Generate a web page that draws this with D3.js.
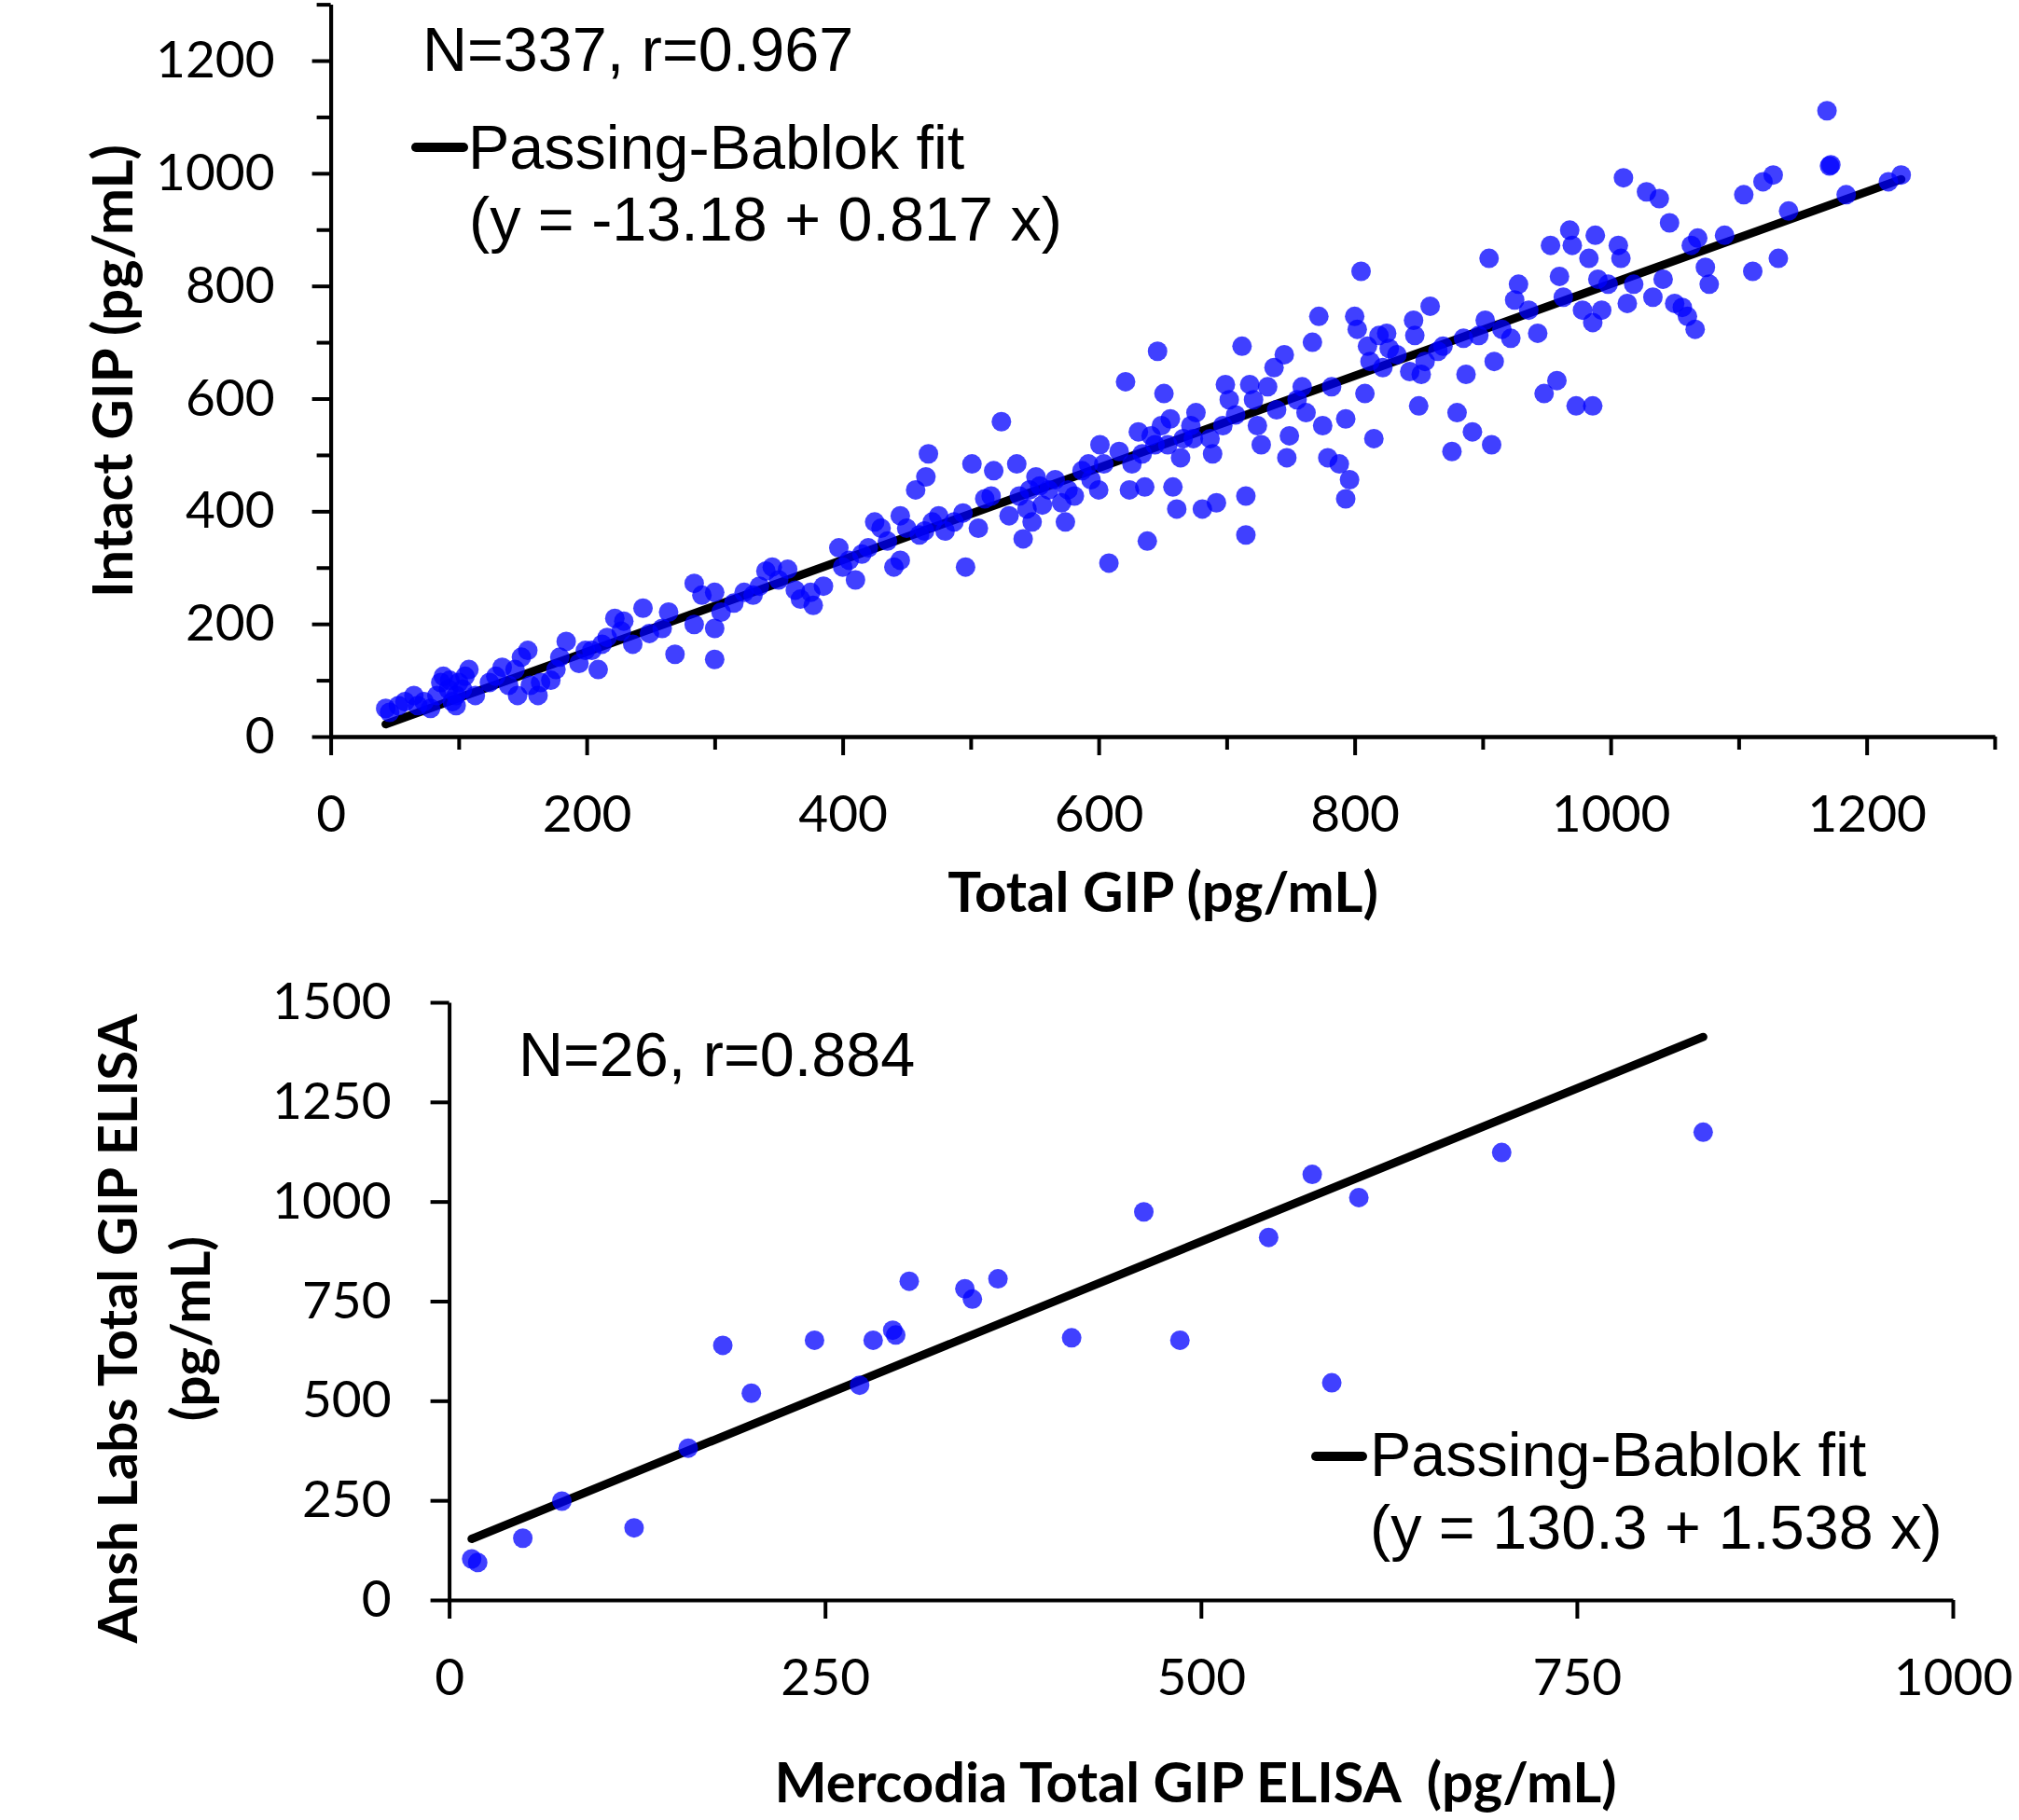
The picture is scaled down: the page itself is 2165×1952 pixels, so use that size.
<!DOCTYPE html>
<html>
<head>
<meta charset="utf-8">
<script src="https://cdn.jsdelivr.net/npm/d3@7"></script>
<style>
  body { margin: 0; background: #fff; }
</style>
</head>
<body>
<div id="chart"></div>
<script>
// ---- top panel: intact GIP vs total GIP ----
var totalGip = [43,46,53,58,65,68,73,78,83,86,88,92,93,95,98,100,103,105,108,98,113,124,129,134,139,144,146,149,154,156,
  162,164,172,176,179,184,194,199,204,209,212,216,222,227,229,236,244,249,259,264,269,284,284,290,300,300,300,305,315,323,
  330,335,340,345,350,357,363,367,375,377,385,397,400,405,410,415,420,425,430,435,440,445,445,450,457,460,464,465,467,470,
  475,480,487,494,496,501,506,511,516,518,524,530,536,538,541,544,546,548,551,554,556,561,566,571,574,576,581,587,592,594,
  600,601,604,608,616,621,624,626,631,634,636,638,641,644,646,649,651,654,656,658,661,664,666,672,674,676,681,687,689,692,
  697,699,702,707,712,715,715,718,721,724,727,732,737,739,745,747,749,755,759,762,767,772,775,779,782,788,793,796,793,800,
  802,805,808,810,812,815,819,822,825,827,833,843,846,847,850,852,855,859,865,869,876,880,885,887,892,897,902,905,907,909,
  915,922,925,928,936,943,948,953,958,960,963,968,970,973,978,983,986,988,986,990,993,998,1006,1008,1010,1013,1018,1028,1033,1038,
  1041,1046,1050,1056,1060,1063,1066,1068,1074,1077,1089,1104,1111,1119,1127,1131,1139,1169,1171,1172,1184,1217,1227];
var intactGip = [50,43,55,62,73,55,62,50,73,96,107,84,100,62,73,96,84,107,119,55,73,96,107,123,91,119,73,141,153,91,
  73,96,100,119,141,169,130,153,153,119,164,176,210,187,205,164,228,183,192,221,146,272,199,251,256,192,137,221,237,256,
  251,267,294,301,278,297,260,244,256,233,267,335,301,313,278,324,335,381,370,347,301,313,392,370,438,358,365,461,502,381,
  392,365,381,397,301,484,370,422,427,472,559,392,484,427,351,404,438,381,461,445,411,438,456,415,381,438,427,472,484,456,
  438,518,484,308,506,630,438,484,541,502,443,347,534,518,684,552,609,518,564,443,404,495,529,552,529,575,404,529,502,415,
  552,625,598,571,693,427,358,625,598,552,518,621,655,580,678,495,534,598,621,575,700,746,552,495,621,484,564,456,422,746,
  723,826,609,693,666,529,712,655,716,689,678,648,739,712,587,643,666,764,684,693,506,575,707,643,541,712,739,849,518,666,
  723,707,775,803,757,716,609,872,632,817,780,899,872,587,757,849,587,890,735,812,757,803,872,849,992,769,803,967,780,955,
  812,912,769,762,746,872,723,885,833,803,890,962,826,985,997,849,933,1111,1013,1015,962,985,997];
var topFit = [-13.18, 0.817];            // intercept, slope
var topMajorTicks = [0, 200, 400, 600, 800, 1000, 1200];
var topMinorTicks = [100, 300, 500, 700, 900, 1100, 1300];

// ---- bottom panel: Ansh Labs vs Mercodia total GIP ----
var mercodia = [15,19,49,75,123,159,182,201,243,273,282,295,297,306,343,348,365,414,462,486,545,574,587,605,700,834];
var anshLabs = [103,94,155,248,181,381,639,519,652,539,652,677,665,800,781,755,806,658,974,652,910,1068,545,1010,1123,1174];
var bottomFit = [130.3, 1.538];
var bottomTicksX = [0, 250, 500, 750, 1000];
var bottomTicksY = [0, 250, 500, 750, 1000, 1250, 1500];

var W = 2165, H = 1952;
var tickFont = "Lato, 'Open Sans', sans-serif";
var noteFont = "'Liberation Sans', Arial, sans-serif";
var dotColor = "#0000ff";
var noteSize = 66.5, titleSize = 60;

var svg = d3.select("#chart").append("svg")
    .attr("width", W)
    .attr("height", H)
    .style("background", "#fff");

function styleAxis(g, fontSize) {
  g.attr("font-size", fontSize).attr("font-family", tickFont);
  g.selectAll("path.domain").attr("stroke", "#000").attr("stroke-width", 4);
  g.selectAll(".tick line").attr("stroke", "#000").attr("stroke-width", 4);
  g.selectAll(".tick text").attr("fill", "#000");
}

function fitLine(x, y, xs, fit) {
  var ext = d3.extent(xs);
  return d3.line()
    .x(function(d) { return x(d); })
    .y(function(d) { return y(fit[0] + fit[1] * d); })(ext);
}

var plain = d3.format("d");

// ================= top panel =================
var xTop = d3.scaleLinear().domain([0, 1300]).range([354.6, 2138.9]);
var yTop = d3.scaleLinear().domain([0, 1300]).range([790, 4.6]);

var topPanel = svg.append("g").attr("class", "top-panel");

// minor ticks (no labels)
topPanel.append("g")
    .attr("transform", "translate(0,790)")
    .call(d3.axisBottom(xTop).tickValues(topMinorTicks).tickSize(14).tickSizeOuter(0).tickFormat(""))
    .call(styleAxis, 55);
topPanel.append("g")
    .attr("transform", "translate(354.6,0)")
    .call(d3.axisLeft(yTop).tickValues(topMinorTicks).tickSize(15).tickSizeOuter(0).tickFormat(""))
    .call(styleAxis, 55);
// major ticks with labels
topPanel.append("g")
    .attr("transform", "translate(0,790)")
    .call(d3.axisBottom(xTop).tickValues(topMajorTicks).tickSize(20).tickSizeOuter(0).tickPadding(43).tickFormat(plain))
    .call(styleAxis, 55);
topPanel.append("g")
    .attr("transform", "translate(354.6,0)")
    .call(d3.axisLeft(yTop).tickValues(topMajorTicks).tickSize(20).tickSizeOuter(0).tickPadding(40).tickFormat(plain))
    .call(styleAxis, 55);

topPanel.append("path")
    .attr("d", fitLine(xTop, yTop, totalGip, topFit))
    .attr("stroke", "#000")
    .attr("stroke-width", 9)
    .attr("stroke-linecap", "round")
    .attr("fill", "none");

topPanel.append("g").selectAll("circle")
    .data(totalGip)
  .enter().append("circle")
    .attr("cx", function(d) { return xTop(d); })
    .attr("cy", function(d, i) { return yTop(intactGip[i]); })
    .attr("r", 10.5)
    .attr("fill", dotColor)
    .attr("fill-opacity", 0.75);

topPanel.append("text")
    .attr("x", 1247).attr("y", 978)
    .attr("text-anchor", "middle")
    .attr("font-family", tickFont).attr("font-weight", "bold").attr("font-size", titleSize)
    .text("Total GIP (pg/mL)");
topPanel.append("text")
    .attr("transform", "translate(142,398) rotate(-90)")
    .attr("text-anchor", "middle")
    .attr("font-family", tickFont).attr("font-weight", "bold").attr("font-size", titleSize)
    .text("Intact GIP (pg/mL)");

topPanel.append("text")
    .attr("x", 453).attr("y", 76)
    .attr("font-family", noteFont).attr("font-size", noteSize)
    .text("N=337, r=0.967");
topPanel.append("line")
    .attr("x1", 446).attr("x2", 497).attr("y1", 158).attr("y2", 158)
    .attr("stroke", "#000").attr("stroke-width", 10).attr("stroke-linecap", "round");
topPanel.append("text")
    .attr("x", 502).attr("y", 181)
    .attr("font-family", noteFont).attr("font-size", noteSize)
    .text("Passing-Bablok fit");
topPanel.append("text")
    .attr("x", 503).attr("y", 258)
    .attr("font-family", noteFont).attr("font-size", noteSize)
    .text("(y = -13.18 + 0.817 x)");

// ================= bottom panel =================
var xBot = d3.scaleLinear().domain([0, 1000]).range([481.6, 2094]);
var yBot = d3.scaleLinear().domain([0, 1500]).range([1716, 1075]);

var botPanel = svg.append("g").attr("class", "bottom-panel");

botPanel.append("g")
    .attr("transform", "translate(0,1716)")
    .call(d3.axisBottom(xBot).tickValues(bottomTicksX).tickSize(20).tickSizeOuter(0).tickPadding(43).tickFormat(plain))
    .call(styleAxis, 55);
botPanel.append("g")
    .attr("transform", "translate(481.6,0)")
    .call(d3.axisLeft(yBot).tickValues(bottomTicksY).tickSize(20).tickSizeOuter(0).tickPadding(42).tickFormat(plain))
    .call(styleAxis, 55);

botPanel.append("path")
    .attr("d", fitLine(xBot, yBot, mercodia, bottomFit))
    .attr("stroke", "#000")
    .attr("stroke-width", 9)
    .attr("stroke-linecap", "round")
    .attr("fill", "none");

botPanel.append("g").selectAll("circle")
    .data(mercodia)
  .enter().append("circle")
    .attr("cx", function(d) { return xBot(d); })
    .attr("cy", function(d, i) { return yBot(anshLabs[i]); })
    .attr("r", 10.5)
    .attr("fill", dotColor)
    .attr("fill-opacity", 0.75);

botPanel.append("text")
    .attr("x", 1282).attr("y", 1933)
    .attr("text-anchor", "middle")
    .attr("font-family", tickFont).attr("font-weight", "bold").attr("font-size", 59.5)
    .style("white-space", "pre")
    .text("Mercodia Total GIP ELISA  (pg/mL)");
botPanel.append("text")
    .attr("transform", "translate(147,1425) rotate(-90)")
    .attr("text-anchor", "middle")
    .attr("font-family", tickFont).attr("font-weight", "bold").attr("font-size", 58)
    .text("Ansh Labs Total GIP ELISA");
botPanel.append("text")
    .attr("transform", "translate(225,1425) rotate(-90)")
    .attr("text-anchor", "middle")
    .attr("font-family", tickFont).attr("font-weight", "bold").attr("font-size", 58)
    .text("(pg/mL)");

botPanel.append("text")
    .attr("x", 556).attr("y", 1154)
    .attr("font-family", noteFont).attr("font-size", noteSize)
    .text("N=26, r=0.884");
botPanel.append("line")
    .attr("x1", 1411).attr("x2", 1461).attr("y1", 1562).attr("y2", 1562)
    .attr("stroke", "#000").attr("stroke-width", 10).attr("stroke-linecap", "round");
botPanel.append("text")
    .attr("x", 1469).attr("y", 1583)
    .attr("font-family", noteFont).attr("font-size", noteSize)
    .text("Passing-Bablok fit");
botPanel.append("text")
    .attr("x", 1469).attr("y", 1661)
    .attr("font-family", noteFont).attr("font-size", noteSize)
    .text("(y = 130.3 + 1.538 x)");
</script>
</body>
</html>
